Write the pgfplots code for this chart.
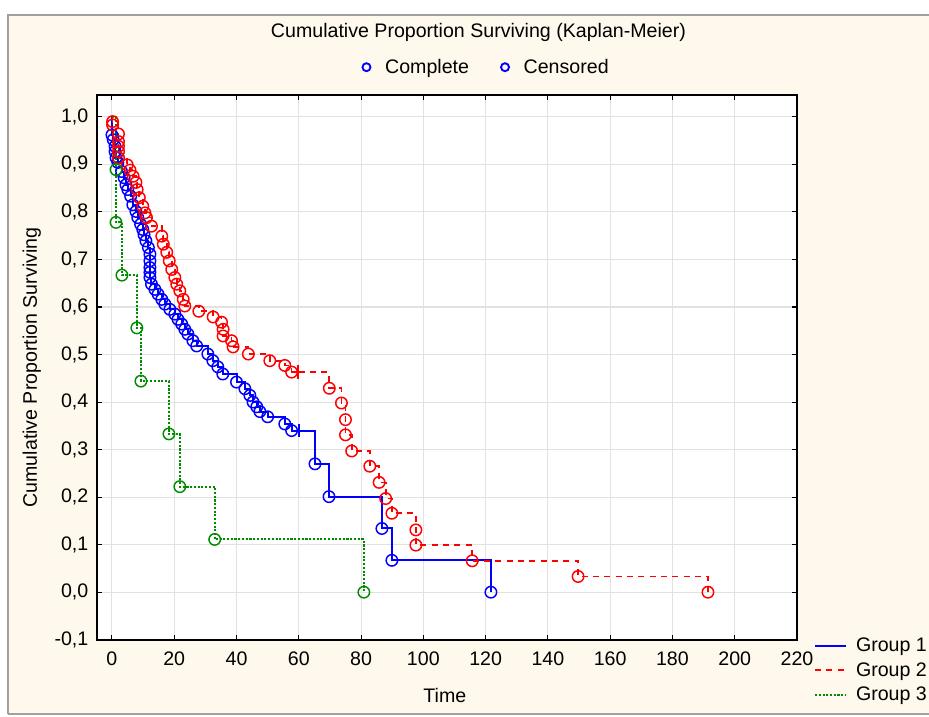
\documentclass[border=0pt]{standalone}
\usepackage{fontspec}
\setmainfont{Liberation Sans}
\usepackage{pgfplots}
\usepackage{pgfplotstable}
\pgfplotsset{compat=1.18}

\definecolor{panel}{HTML}{FFF8EC}
\definecolor{frame}{HTML}{A0A0A0}
\definecolor{gridc}{HTML}{E2E2E2}
\definecolor{g1}{HTML}{0000FF}
\definecolor{g2}{HTML}{FF0000}
\definecolor{g3}{HTML}{008C00}

% Kaplan-Meier estimates: time, proportion surviving
% (first row is the start of the curve, no marker)
\pgfplotstableread{
t s
0 1
0.0 0.962
0.4 0.952
1.0 0.938
1.0 0.927
1.3 0.914
1.9 0.904
3.1 0.885
3.9 0.872
4.5 0.857
5.1 0.847
6.0 0.833
6.7 0.815
7.7 0.801
8.3 0.788
9.2 0.774
9.9 0.763
10.3 0.752
10.9 0.739
11.7 0.725
12.2 0.711
12.2 0.697
12.2 0.683
12.2 0.673
12.2 0.662
12.7 0.648
13.8 0.637
14.8 0.627
16.0 0.616
17.0 0.606
18.6 0.595
20.2 0.585
21.2 0.574
22.4 0.564
23.4 0.553
24.4 0.543
26.0 0.529
27.2 0.518
30.8 0.501
32.4 0.487
34.0 0.474
35.6 0.459
40.0 0.442
42.7 0.428
44.3 0.414
45.3 0.400
46.5 0.390
47.5 0.380
50.0 0.369
55.5 0.354
57.7 0.340
65.2 0.270
69.7 0.201
86.7 0.134
89.9 0.067
121.7 0
}\groupone

\pgfplotstableread{
t s
0 1
0.2 0.990
0.2 0.983
2.1 0.964
2.1 0.948
2.1 0.938
2.1 0.927
2.1 0.914
4.9 0.899
5.8 0.888
6.8 0.875
7.7 0.862
8.1 0.847
8.8 0.830
9.9 0.812
10.6 0.798
11.1 0.788
12.7 0.770
16.0 0.749
16.5 0.732
17.6 0.715
18.4 0.697
19.2 0.679
20.2 0.662
20.8 0.648
21.8 0.634
22.9 0.616
23.4 0.602
27.9 0.591
32.5 0.579
35.2 0.568
35.7 0.553
35.7 0.539
38.4 0.529
38.9 0.516
43.8 0.501
50.7 0.487
55.5 0.477
57.7 0.463
69.8 0.429
73.7 0.398
75.0 0.363
75.0 0.331
77.0 0.297
82.8 0.265
85.8 0.231
87.9 0.197
89.9 0.166
97.6 0.131
97.6 0.099
115.7 0.066
149.7 0.033
191.4 0
}\grouptwo

\pgfplotstableread{
t s
0 1
1.3 0.889
1.3 0.778
3.2 0.667
8.0 0.556
9.3 0.444
18.3 0.333
21.8 0.222
33.0 0.111
80.9 0
}\groupthree

\newcommand{\txt}{\fontsize{14.7}{17}\selectfont}

\begin{document}
\begin{tikzpicture}[x=0.75pt,y=0.75pt]
% screenshot window around the chart
\fill[white] (0,0) rectangle (929,717);
\fill[panel] (9,4) rectangle (929,701);
\draw[frame, line width=1.5pt] (8,3) -- (8,702) -- (929,702);
\draw[frame, line width=1pt] (8,3) -- (929,3);

\begin{axis}[
  at={(72.75pt,57.75pt)}, anchor=south west,
  scale only axis, width=525pt, height=408.75pt,
  xmin=-4.8, xmax=220, ymin=-0.1006, ymax=1.046,
  xtick={0,20,...,220},
  ytick={-0.1,0,0.1,0.2,0.3,0.4,0.5,0.6,0.7,0.8,0.9,1.0},
  /pgf/number format/assume math mode=true,
  tick label style={font=\txt},
  xticklabel style={yshift=-5pt},
  yticklabel style={xshift=-3pt, /pgf/number format/.cd, fixed, fixed zerofill, precision=1, use comma},
  axis background/.style={fill=white},
  axis line style={black, line width=1.4pt},
  tick style={black, line width=0.8pt},
  tick align=inside, major tick length=4pt,
  grid=major, major grid style={gridc, line width=0.8pt},
  title={Cumulative Proportion Surviving (Kaplan-Meier)},
  title style={font=\txt, at={(axis description cs:0.545,1.101)}, anchor=center},
  xlabel={Time},
  xlabel style={font=\txt, at={(axis description cs:0.497,-0.101)}, anchor=center},
  ylabel={Cumulative Proportion Surviving},
  ylabel style={font=\txt, at={(axis description cs:-0.093,0.5)}, anchor=center},
  legend style={font=\txt, draw=none, fill=none, at={(axis description cs:1.024,0.009)},
    anchor=north west, row sep=2.5pt, inner sep=0pt, cells={anchor=west},
    /tikz/every odd column/.append style={column sep=5pt}},
  legend image code/.code={\draw[#1] (0pt,0pt) -- (23pt,0pt);},
]
\addplot[const plot, g1, line width=1.5pt] table {\groupone};
\addlegendentry{Group 1}
\addplot[const plot, g2, line width=1.3pt, dash pattern=on 4.5pt off 4pt] table {\grouptwo};
\addlegendentry{Group 2}
\addplot[const plot, g3, line width=1.4pt, dash pattern=on 1.6pt off 1.2pt] table {\groupthree};
\addlegendentry{Group 3}

\addplot[forget plot, only marks, mark=o, mark size=4.3pt, g1, mark options={solid, line width=1.1pt},
  skip coords between index={0}{1}] table {\groupone};
\addplot[forget plot, only marks, mark=o, mark size=4.3pt, g2, mark options={solid, line width=1.1pt},
  skip coords between index={0}{1}] table {\grouptwo};
\addplot[forget plot, only marks, mark=o, mark size=4.3pt, g3, mark options={solid, line width=1.1pt},
  skip coords between index={0}{1}] table {\groupthree};
% censored observations
\addplot[forget plot, only marks, mark=+, mark size=5pt, g1, mark options={line width=1.1pt}]
  coordinates {(60.0,0.340)};
\addplot[forget plot, only marks, mark=+, mark size=5pt, g2, mark options={line width=1.1pt}]
  coordinates {(59.8,0.463)};
\end{axis}

% key for the marker types, above the plot
\begin{axis}[
  at={(72.75pt,57.75pt)}, anchor=south west,
  scale only axis, width=525pt, height=408.75pt,
  xmin=0, xmax=1, ymin=0, ymax=1, hide axis,
  legend columns=2,
  legend style={font=\txt, draw=none, fill=none, at={(axis description cs:0.557,1.051)},
    anchor=center,
    /tikz/every odd column/.append style={column sep=9pt},
    /tikz/every even column/.append style={column sep=22pt}},
  legend image code/.code={\draw[#1] plot coordinates {(4pt,0pt)};},
]
\addlegendimage{only marks, mark=o, mark size=3pt, g1, mark options={line width=1.4pt}}
\addlegendentry{Complete}
\addlegendimage{only marks, mark=o, mark size=3pt, g1, mark options={line width=1.4pt}}
\addlegendentry{Censored}
\end{axis}
\pgfresetboundingbox
\path[use as bounding box] (0,0) rectangle (929,717);
\end{tikzpicture}
\end{document}
